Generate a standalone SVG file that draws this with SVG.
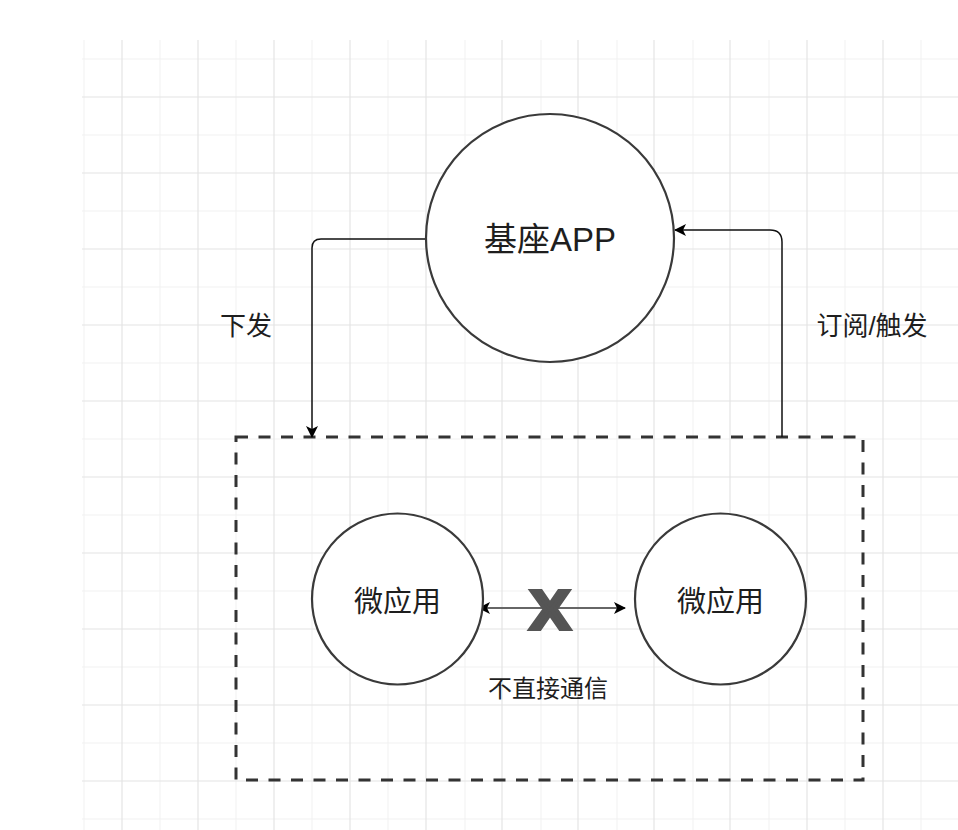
<svg xmlns="http://www.w3.org/2000/svg" width="958" height="830" viewBox="0 0 958 830">
<defs>
<style>
.minor{stroke:#f1f1f1;stroke-width:1;fill:none}
.major{stroke:#e4e4e4;stroke-width:1.2;fill:none}
.node{fill:#ffffff;stroke:#3a3a3a;stroke-width:2.2}
.txt{font-family:"Liberation Sans","Noto Sans CJK SC",sans-serif;fill:#1e1e1e;text-anchor:middle;dominant-baseline:central}
.conn{fill:none;stroke:#111;stroke-width:1.5}
</style>
<marker id="arr" viewBox="0 0 12 12" refX="11" refY="6" markerWidth="12" markerHeight="12" markerUnits="userSpaceOnUse" orient="auto-start-reverse">
<path d="M0,0 L12,6 L0,12 L3,6 Z" fill="#000"/>
</marker>
</defs>
<rect width="958" height="830" fill="#ffffff"/>
<g id="grid">
<path class="minor" d="M84,40V830M160,40V830M236,40V830M312,40V830M388,40V830M465,40V830M541,40V830M617,40V830M693,40V830M769,40V830M845,40V830M921,40V830M82,59H958M82,135H958M82,211H958M82,287H958M82,363H958M82,439H958M82,515H958M82,591H958M82,667H958M82,743H958M82,819H958"/>
<path class="major" d="M122,40V830M198,40V830M274,40V830M350,40V830M426,40V830M502,40V830M578,40V830M654,40V830M730,40V830M807,40V830M883,40V830M82,97H958M82,173H958M82,249H958M82,325H958M82,401H958M82,477H958M82,553H958M82,629H958M82,705H958M82,781H958"/>
</g>
<g id="container">
<rect x="236" y="437" width="627" height="343" fill="none" stroke="#333" stroke-width="3" stroke-dasharray="12 10.5"/>
</g>
<g id="connectors">
<path class="conn" d="M426,239 H321 Q312,239 312,248 V437" marker-end="url(#arr)"/>
<path class="conn" d="M782,437 V242 Q782,230 770,230 H675" marker-end="url(#arr)"/>
<path d="M479,608 H625" fill="none" stroke="#666" stroke-width="2.2" marker-start="url(#arr)" marker-end="url(#arr)"/>
</g>
<g id="node-base">
<circle class="node" cx="550" cy="238" r="124"/>
<text class="txt" x="550" y="239" font-size="33">基座APP</text>
</g>
<g id="node-micro-left">
<circle class="node" cx="397.5" cy="599" r="85.5"/>
<text class="txt" x="397.5" y="602" font-size="29">微应用</text>
</g>
<g id="node-micro-right">
<circle class="node" cx="720.5" cy="599" r="85.5"/>
<text class="txt" x="720.5" y="602" font-size="29">微应用</text>
</g>
<g id="mark-x">
<text x="550" y="629" font-family="Liberation Sans, sans-serif" font-weight="bold" font-size="56" fill="#555" stroke="#555" stroke-width="4" stroke-linejoin="miter" text-anchor="middle" textLength="40" lengthAdjust="spacingAndGlyphs">X</text>
</g>
<g id="labels">
<text class="txt" x="246" y="326" font-size="26">下发</text>
<text class="txt" x="872" y="326" font-size="26">订阅/触发</text>
<text class="txt" x="548" y="688" font-size="24">不直接通信</text>
</g>
</svg>
